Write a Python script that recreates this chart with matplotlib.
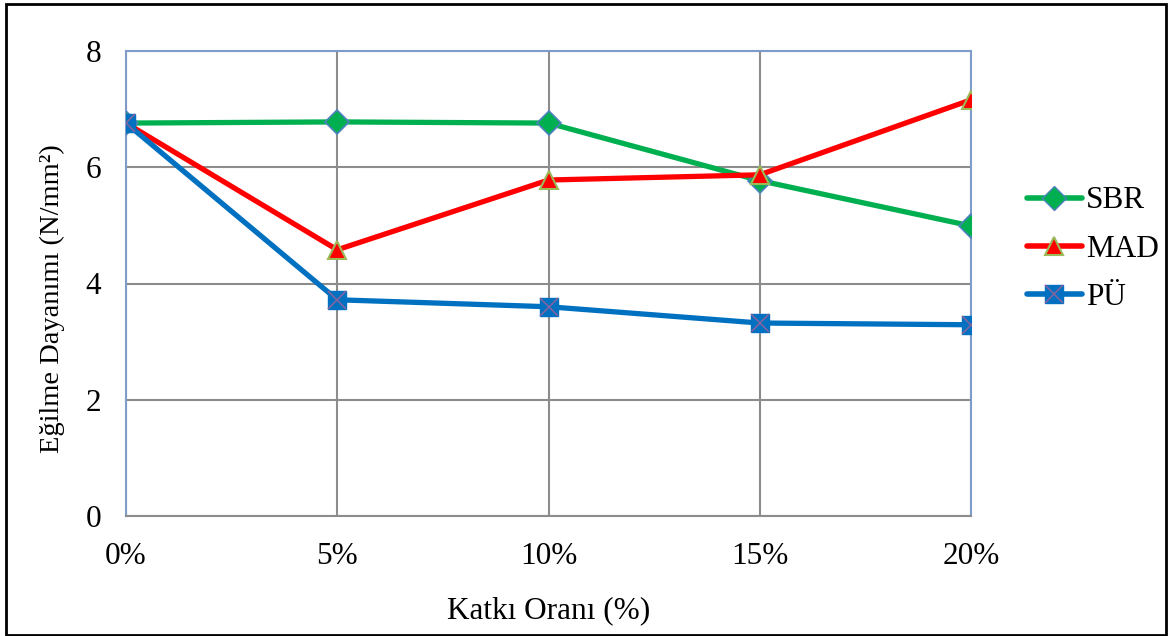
import matplotlib
matplotlib.use("Agg")
import matplotlib.pyplot as plt
from matplotlib.lines import Line2D
from matplotlib.patches import Rectangle

plt.rcParams['font.family'] = ['Liberation Serif', 'DejaVu Serif']

categories = ["0%", "5%", "10%", "15%", "20%"]
sbr = [6.76, 6.78, 6.76, 5.77, 4.99]
mad = [6.76, 4.58, 5.78, 5.87, 7.16]
pu = [6.76, 3.72, 3.60, 3.32, 3.29]
series_names = ["SBR", "MAD", "PÜ"]

fig = plt.figure(figsize=(11.71, 6.36), dpi=100)
ax = fig.add_axes([126/1171, 1-516/636, (971-126)/1171, (516-51)/636])

x = list(range(len(categories)))
ax.plot(x, sbr, color='#00B050', lw=3.8, marker='D', ms=12.5, mfc='#00B050',
        mec='#4F81BD', mew=1.2, zorder=3, solid_capstyle='round')
ax.plot(x, mad, color='#FF0000', lw=3.8, marker='^', ms=13, mfc='#FF0000',
        mec='#9BBB59', mew=1.5, zorder=4, solid_capstyle='round')
ax.plot(x, pu, color='#0070C0', lw=3.8, marker='s', ms=12.5, mfc='#0070C0',
        mec='#0070C0', mew=1, zorder=5, solid_capstyle='round')
ax.plot(x, pu, ls='none', marker='x', ms=12.5, mec='#8064A2', mew=1.2, zorder=6)

ax.set_xlim(0, 4)
ax.set_ylim(0, 8)
ax.set_yticks([0, 2, 4, 6, 8])
ax.set_xticks(x)
ax.set_xticklabels(categories)
ax.grid(True, color='#8C8C8C', lw=1.5)
ax.set_axisbelow(True)
for s in ['left', 'right', 'top', 'bottom']:
    ax.spines[s].set_color('#7F9DC8')
    ax.spines[s].set_linewidth(1.5)
ax.spines['bottom'].set_color('#8C8C8C')
ax.tick_params(length=0, labelsize=22.5)
ax.tick_params(axis='x', pad=19)
ax.tick_params(axis='y', pad=18)
ax.set_xlabel("Katkı Oranı (%)", fontsize=22.5, labelpad=18)
ax.set_ylabel("Eğilme Dayanımı (N/mm²)", fontsize=20.5)
ax.yaxis.set_label_coords(-0.072, 0.467)

handles = [
    Line2D([], [], color='#00B050', lw=4, marker='D', ms=12.5, mfc='#00B050', mec='#4F81BD', solid_capstyle='round'),
    Line2D([], [], color='#FF0000', lw=4, marker='^', ms=13, mfc='#FF0000', mec='#9BBB59', mew=1.5, solid_capstyle='round'),
    (Line2D([], [], color='#0070C0', lw=4, marker='s', ms=12.5, mfc='#0070C0', mec='#0070C0', solid_capstyle='round'),
     Line2D([], [], ls='none', marker='x', ms=12.5, mec='#8064A2', mew=1.2)),
]
fig.legend(handles, series_names, loc='center left', bbox_to_anchor=(1027/1171, 1-249/636),
           frameon=False, fontsize=22.5, handlelength=1.75, handletextpad=0.15,
           labelspacing=0.61, borderaxespad=0, borderpad=0)

fig.add_artist(Rectangle((6/1171, 0.001), (1166-6)/1171, (632-1)/636, transform=fig.transFigure,
                         fill=False, ec='black', lw=2))

fig.savefig("out.png", dpi=100)
